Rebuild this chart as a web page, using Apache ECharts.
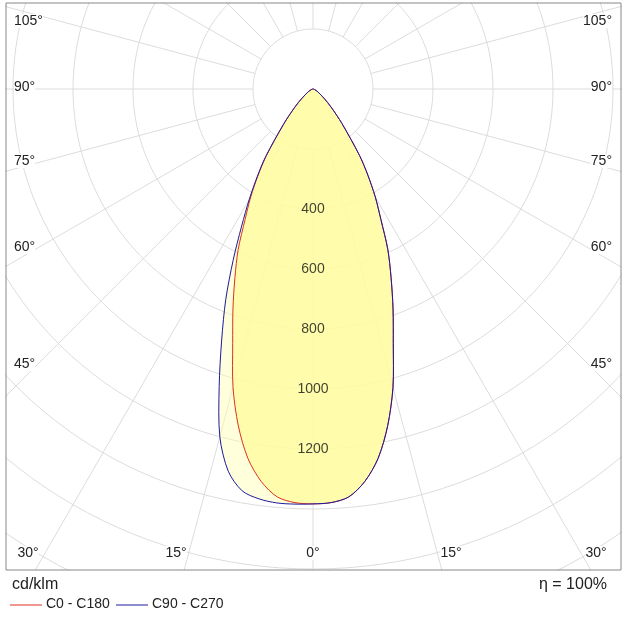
<!DOCTYPE html>
<html><head><meta charset="utf-8">
<script src="https://cdn.jsdelivr.net/npm/echarts@6/dist/echarts.min.js"></script>
<style>html,body{margin:0;padding:0;background:#fff}#c{width:628px;height:622px}</style>
</head><body><div id="c"></div>
<script>
// gamma angles (deg) from nadir
var angles = [0,2.5,5,7.5,10,12.5,15,17.5,20,22.5,25,27.5,30,32.5,35,40,45,50,60,70,80,90];
// intensities cd/klm
var c0c180 = [1383,1380,1365,1320,1250,1150,1030,890,780,680,590,490,415,340,270,150,85,48,18,6,2,0];
var c90Left = [1383,1385,1385,1378,1360,1305,1200,1040,890,760,630,515,425,345,275,152,86,48,18,6,2,0];
var c90Right = [1383,1380,1365,1320,1250,1150,1030,890,780,680,590,490,415,340,270,150,85,48,18,6,2,0];
var ringValues = [200,400,600,800,1000,1200,1400,1600,1800,2000];
var intensityLabels = [400,600,800,1000,1200];
var angleLabelsLeft = [['105°',22],['90°',88],['75°',162],['60°',248],['45°',365]];
var angleLabelsBottom = [['30°',28],['15°',176],['0°',313],['15°',451],['30°',596]];

function toXY(I, deg, side){var t=deg*Math.PI/180;return [side*I*Math.sin(t), -I*Math.cos(t)];}
function curve(left,right){
  var pts=[];
  for(var i=angles.length-1;i>=0;i--) pts.push(toXY(left[i],angles[i],-1));
  for(var j=1;j<angles.length;j++) pts.push(toXY(right[j],angles[j],1));
  return pts;
}
var redPts=curve(c0c180,c0c180), bluePts=curve(c90Left,c90Right);

var series=[];
var gridStyle={color:'#dcdcdc',width:1};
ringValues.forEach(function(r){
  var d=[];for(var a=0;a<=360;a+=2)d.push([r*Math.sin(a*Math.PI/180),r*Math.cos(a*Math.PI/180)]);
  series.push({type:'line',data:d,showSymbol:false,silent:true,lineStyle:gridStyle,z:1,animation:false});
});
for(var a=0;a<360;a+=15){
  var s=Math.sin(a*Math.PI/180),c=Math.cos(a*Math.PI/180);
  series.push({type:'line',data:[[200*s,200*c],[2600*s,2600*c]],showSymbol:false,silent:true,lineStyle:gridStyle,z:1,animation:false});
}
function poly(pts,fill,stroke,z){
  return {type:'custom',coordinateSystem:'cartesian2d',clip:true,z:z,animation:false,data:[0],
    renderItem:function(p,api){
      var P=pts.map(function(q){return api.coord(q);});
      return {type:'polygon',shape:{points:P,smooth:0.3},style:{fill:fill,stroke:stroke,lineWidth:1}};
    }};
}
series.push(poly(bluePts,'rgba(255,255,175,0.45)',null,2));
series.push(poly(redPts,'rgba(255,252,160,0.8)',null,3));
series.push(poly(redPts,'none','#e03020',4));
series.push(poly(bluePts,'none','#1a1aa0',5));
series.push({type:'scatter',symbolSize:0,z:6,animation:false,
  data:intensityLabels.map(function(v){return [0,-v];}),
  label:{show:true,position:'inside',formatter:function(p){return String(-p.value[1]);},fontSize:14,color:'#111',fontFamily:'Arial, Liberation Sans'}});

var graphic=[];
var tf={fontSize:14,fill:'#222',fontFamily:'Arial, Liberation Sans',backgroundColor:'#fff'};
angleLabelsLeft.forEach(function(l){
  graphic.push({type:'text',left:14,top:l[1]-8,z:100,style:Object.assign({text:l[0]},tf)});
  graphic.push({type:'text',right:628-612,top:l[1]-8,z:100,style:Object.assign({text:l[0],align:'right'},tf)});
});
angleLabelsBottom.forEach(function(l){
  graphic.push({type:'text',x:l[1],y:546,z:100,style:Object.assign({text:l[0],align:'center'},tf)});
});
graphic.push({type:'rect',shape:{x:6,y:3,width:615,height:567},style:{fill:'none',stroke:'#888',lineWidth:1},z:100});
var tf2={fontSize:16,fill:'#222',fontFamily:'Arial, Liberation Sans'};
graphic.push({type:'text',x:12,y:577,style:Object.assign({text:'cd/klm'},tf2)});
graphic.push({type:'text',x:607,y:577,style:Object.assign({text:'η = 100%',align:'right'},tf2)});
graphic.push({type:'line',shape:{x1:10,y1:605,x2:42,y2:605},style:{stroke:'#e03020',lineWidth:1}});
graphic.push({type:'text',x:46,y:597,style:Object.assign({},tf2,{text:'C0 - C180',fontSize:14})});
graphic.push({type:'line',shape:{x1:116,y1:605,x2:148,y2:605},style:{stroke:'#1a1aa0',lineWidth:1}});
graphic.push({type:'text',x:152,y:597,style:Object.assign({},tf2,{text:'C90 - C270',fontSize:14})});

var chart=echarts.init(document.getElementById('c'));
chart.setOption({
  backgroundColor:'#fff',animation:false,
  grid:{left:6,top:3,width:615,height:567},
  xAxis:{type:'value',min:-(313-6)/0.3,max:(621-313)/0.3,show:false},
  yAxis:{type:'value',min:-(570-89)/0.3,max:(89-3)/0.3,show:false},
  series:series,graphic:graphic
});
</script></body></html>
